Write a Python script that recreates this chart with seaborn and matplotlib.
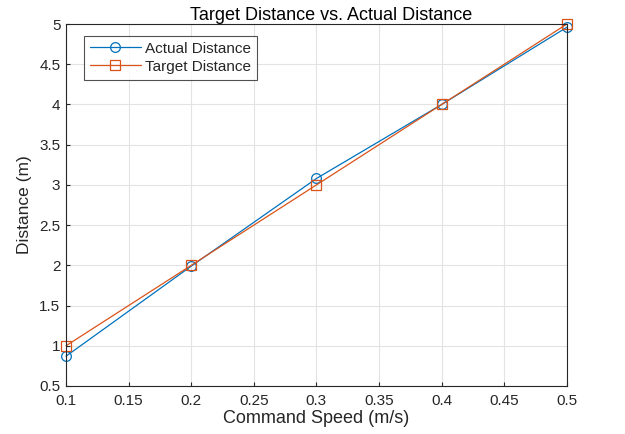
import seaborn as sns
import matplotlib.pyplot as plt
import pandas as pd

# values
speed = [0.1, 0.2, 0.3, 0.4, 0.5]
actual = [0.87, 1.99, 3.08, 4.0, 4.96]
target = [1.0, 2.0, 3.0, 4.0, 5.0]

df = pd.DataFrame({
    "speed": speed * 2,
    "distance": actual + target,
    "series": ["Actual Distance"] * 5 + ["Target Distance"] * 5,
})

sns.set_style("whitegrid")
plt.rcParams['font.family'] = ['Arial', 'Liberation Sans', 'DejaVu Sans']

fig = plt.figure(figsize=(6.25, 4.34), dpi=100)
ax = fig.add_axes([0.1056, 0.1106, 0.8014, 0.834])

palette = {"Actual Distance": "#0072BD", "Target Distance": "#D95319"}
sns.lineplot(data=df, x="speed", y="distance", hue="series", style="series",
             markers={"Actual Distance": "o", "Target Distance": "s"},
             dashes=False, palette=palette, linewidth=0.9, markersize=7,
             markerfacecolor="none", ax=ax)
for line in ax.lines:
    line.set_markerfacecolor("none")
    line.set_markeredgecolor(line.get_color())
    line.set_markeredgewidth(0.9)
    line.set_clip_on(False)

ax.set_xlim(0.1, 0.5)
ax.set_ylim(0.5, 5)
ax.set_xticks([0.1, 0.15, 0.2, 0.25, 0.3, 0.35, 0.4, 0.45, 0.5])
ax.set_xticklabels(["0.1", "0.15", "0.2", "0.25", "0.3", "0.35", "0.4", "0.45", "0.5"])
ax.set_yticks([0.5, 1, 1.5, 2, 2.5, 3, 3.5, 4, 4.5, 5])
ax.set_yticklabels(["0.5", "1", "1.5", "2", "2.5", "3", "3.5", "4", "4.5", "5"])
ax.grid(True, color="#e3e3e3", linewidth=0.8)
for s in ax.spines.values():
    s.set_color("#262626")
    s.set_linewidth(0.8)
ax.tick_params(axis="both", labelsize=11, colors="#262626", direction="in",
               length=3, width=0.8, left=True, bottom=True)
ax.tick_params(axis="x", pad=6)
ax.tick_params(axis="y", pad=4)

ax.set_xlabel("Command Speed (m/s)", fontsize=13, color="#262626", labelpad=1)
ax.set_ylabel("Distance (m)", fontsize=12.5, color="#262626", labelpad=5)
ax.set_title("Target Distance vs. Actual Distance", fontsize=13, color="#000000",
             pad=3, x=0.53)

leg = ax.legend(loc="upper left", bbox_to_anchor=(0.036, 0.968), fontsize=11,
                frameon=True, fancybox=False, edgecolor="#262626",
                handlelength=3.3, borderpad=0.4, labelspacing=0.25,
                handletextpad=0.3, borderaxespad=0)
leg.get_frame().set_linewidth(0.8)
leg.set_title(None)

fig.savefig("out.png", dpi=100)
